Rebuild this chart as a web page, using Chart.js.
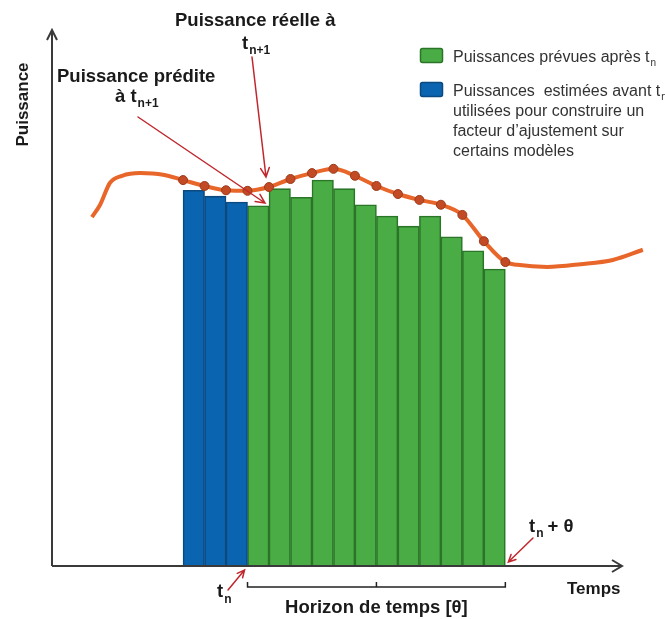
<!DOCTYPE html>
<html>
<head>
<meta charset="utf-8">
<script src="https://cdn.jsdelivr.net/npm/chart.js@4.4.0/dist/chart.umd.min.js"></script>
<style>
    html, body { margin: 0; padding: 0; background: #fff; }
    #wrap { width: 665px; height: 619px; }
</style>
</head>
<body>
<div id="wrap"><canvas id="chart" width="665" height="619"></canvas></div>
<script>
// Créneaux 0..2 : puissances estimées avant t_n (bleu), 3..14 : prévues après t_n (vert)
const blueSlots = [0, 1, 2];
const blueValues = [70.1, 69.0, 67.9];
const greenSlots = [3, 4, 5, 6, 7, 8, 9, 10, 11, 12, 13, 14];
const greenValues = [67.2, 70.4, 68.8, 72.0, 70.4, 67.4, 65.3, 63.4, 65.3, 61.4, 58.8, 55.4];

// Puissance réelle (courbe orange) ; marker = 1 là où un point est dessiné
const curveX = [-4.74, -4.36, -3.9, -3.34, -2.5, -1.43,
    -0.5, 0.5, 1.5, 2.5, 3.5, 4.5, 5.5, 6.5, 7.5, 8.5, 9.5, 10.5, 11.5, 12.5, 13.5, 14.5,
    15.06, 16.45, 18.0, 19.5, 20.9];
const curveY = [65.1, 67.4, 71.5, 72.8, 73.3, 73.0,
    72.0, 70.9, 70.1, 70.0, 70.7, 72.2, 73.3, 74.1, 72.8, 70.9, 69.4, 68.3, 67.4, 65.5, 60.6, 56.7,
    56.2, 55.8, 56.3, 57.1, 59.0];
const curveMarker = [0, 0, 0, 0, 0, 0,
    1, 1, 1, 1, 1, 1, 1, 1, 1, 1, 1, 1, 1, 1, 1, 1,
    0, 0, 0, 0, 0];

const tnSlot = 2.5;        // limite entre bleu et vert
const tnThetaSlot = 14.5;  // fin de l'horizon

const legendItems = [
    { color: '#4aac44', border: '#2a7527', lines: ['Puissances prévues après t'], sub: 'n' },
    { color: '#0b64b0', border: '#0a4a80', lines: ['Puissances  estimées avant t', 'utilisées pour construire un', 'facteur d\u2019ajustement sur', 'certains modèles'], sub: 'n' }
];

const BOLD = 'bold 18.5px "Liberation Sans", Arial, sans-serif';
const BOLD_SM = 'bold 17px "Liberation Sans", Arial, sans-serif';
const SUB = 'bold 12px "Liberation Sans", Arial, sans-serif';
const REG = '16px "Liberation Sans", Arial, sans-serif';
const RED = '#c0272d';

function arrow(ctx, x1, y1, x2, y2, color, width, head) {
    const a = Math.atan2(y2 - y1, x2 - x1);
    ctx.save();
    ctx.strokeStyle = color;
    ctx.lineWidth = width;
    ctx.lineCap = 'round';
    ctx.beginPath();
    ctx.moveTo(x1, y1);
    ctx.lineTo(x2, y2);
    ctx.moveTo(x2 - head * Math.cos(a - 0.45), y2 - head * Math.sin(a - 0.45));
    ctx.lineTo(x2, y2);
    ctx.lineTo(x2 - head * Math.cos(a + 0.45), y2 - head * Math.sin(a + 0.45));
    ctx.stroke();
    ctx.restore();
}

function textSub(ctx, x, y, main, sub, mainFont, subFont, drop) {
    ctx.font = mainFont;
    ctx.fillText(main, x, y);
    const w = ctx.measureText(main).width;
    ctx.font = subFont;
    ctx.fillText(sub, x + w + 1, y + drop);
    return x + w + 1 + ctx.measureText(sub).width;
}

const overlay = {
    id: 'overlay',
    afterDatasetsDraw(chart) {
        const ctx = chart.ctx;
        const xs = chart.scales.x, ys = chart.scales.y;
        const x0 = chart.chartArea.left;
        const yBase = ys.getPixelForValue(0);
        const tn = xs.getPixelForValue(tnSlot);
        const tnT = xs.getPixelForValue(tnThetaSlot);

        // axes
        ctx.save();
        ctx.strokeStyle = '#3a3a3a';
        ctx.lineWidth = 2;
        ctx.beginPath();
        ctx.moveTo(x0, yBase); ctx.lineTo(x0, 30);
        ctx.moveTo(47, 40); ctx.lineTo(x0, 30); ctx.lineTo(57, 40);
        ctx.moveTo(x0, yBase); ctx.lineTo(622, yBase);
        ctx.moveTo(612, yBase - 6); ctx.lineTo(622, yBase); ctx.lineTo(612, yBase + 6);
        ctx.stroke();

        // accolade de l'horizon
        ctx.lineWidth = 1.5;
        ctx.strokeStyle = '#222';
        ctx.beginPath();
        ctx.moveTo(tn, 582); ctx.lineTo(tn, 587); ctx.lineTo(tnT, 587); ctx.lineTo(tnT, 582);
        const mid = (tn + tnT) / 2;
        ctx.moveTo(mid, 587); ctx.lineTo(mid, 582);
        ctx.stroke();
        ctx.restore();

        // flèches rouges
        arrow(ctx, 252, 57, 266, 177, RED, 1.5, 10);
        arrow(ctx, 138, 117, 265, 203, RED, 1.5, 10);
        arrow(ctx, 228, 590, tn - 3, yBase + 4, RED, 1.5, 8);
        arrow(ctx, 533, 538, tnT + 3, yBase - 4, RED, 1.5, 8);

        // textes
        ctx.save();
        ctx.fillStyle = '#1a1a1a';
        ctx.textAlign = 'left';
        ctx.textBaseline = 'alphabetic';
        ctx.font = BOLD;
        ctx.fillText('Puissance réelle à', 175, 26);
        textSub(ctx, 242, 49, 't', 'n+1', BOLD, SUB, 5);
        ctx.font = BOLD;
        ctx.fillText('Puissance prédite', 57, 82);
        textSub(ctx, 115, 102, 'à t', 'n+1', BOLD, SUB, 5);

        textSub(ctx, 217, 597, 't', 'n', BOLD, SUB, 6);
        const e = textSub(ctx, 529, 532, 't', 'n', BOLD, SUB, 5);
        ctx.font = BOLD;
        ctx.fillText('+ θ', e + 4, 532);

        ctx.font = BOLD_SM;
        ctx.fillText('Temps', 567, 594);
        ctx.font = BOLD;
        ctx.textAlign = 'center';
        ctx.fillText('Horizon de temps [θ]', mid, 613);

        ctx.font = BOLD_SM;
        ctx.translate(23, 104.5);
        ctx.rotate(-Math.PI / 2);
        ctx.textBaseline = 'middle';
        ctx.fillText('Puissance', 0, 0);
        ctx.restore();

        // légende
        ctx.save();
        let top = 48;
        legendItems.forEach((item) => {
            ctx.fillStyle = item.color;
            ctx.strokeStyle = item.border;
            ctx.lineWidth = 1.5;
            ctx.beginPath();
            ctx.roundRect(420.5, top + 0.5, 22, 14, 2);
            ctx.fill();
            ctx.stroke();
            ctx.fillStyle = '#333';
            ctx.textAlign = 'left';
            item.lines.forEach((line, i) => {
                const y = top + 14 + i * 20;
                if (i === 0) {
                    textSub(ctx, 453, y, line, item.sub, REG, '10px "Liberation Sans", Arial, sans-serif', 4);
                } else {
                    ctx.font = REG;
                    ctx.fillText(line, 453, y);
                }
            });
            top = 82;
        });
        ctx.restore();
    }
};

const curveData = curveX.map((x, i) => ({ x, y: curveY[i] }));

new Chart(document.getElementById('chart'), {
    type: 'bar',
    data: {
        datasets: [
            {
                type: 'line',
                label: 'Puissance réelle',
                data: curveData,
                borderColor: '#e8662a',
                borderWidth: 4,
                cubicInterpolationMode: 'monotone',
                fill: false,
                pointRadius: curveMarker.map(m => m ? 4.5 : 0),
                pointBackgroundColor: '#c24a24',
                pointBorderColor: '#9c3b1b',
                pointBorderWidth: 1,
                order: 0
            },
            {
                label: 'Puissances estimées avant tn',
                data: blueSlots.map((x, i) => ({ x, y: blueValues[i] })),
                backgroundColor: '#0b64b0',
                borderColor: '#0a4a80',
                borderWidth: 1.6,
                barPercentage: 1,
                categoryPercentage: 1,
                grouped: false,
                order: 1
            },
            {
                label: 'Puissances prévues après tn',
                data: greenSlots.map((x, i) => ({ x, y: greenValues[i] })),
                backgroundColor: '#4aac44',
                borderColor: '#2a7527',
                borderWidth: 1.6,
                barPercentage: 1,
                categoryPercentage: 1,
                grouped: false,
                order: 1
            }
        ]
    },
    options: {
        responsive: false,
        animation: false,
        layout: { padding: { left: 52, right: 20, top: 30, bottom: 53 } },
        plugins: { legend: { display: false }, tooltip: { enabled: false } },
        scales: {
            x: { type: 'linear', min: -6.6, max: 21, offset: false, display: false },
            y: { min: 0, max: 100, display: false }
        }
    },
    plugins: [overlay]
});
</script>
</body>
</html>
